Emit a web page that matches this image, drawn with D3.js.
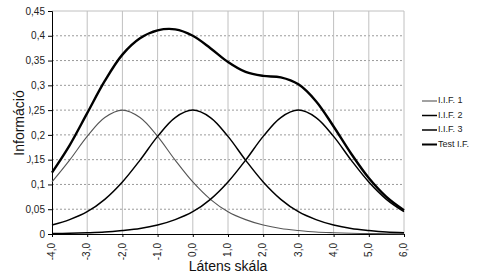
<!DOCTYPE html>
<html>
<head>
<meta charset="utf-8">
<script src="https://cdn.jsdelivr.net/npm/d3@7"></script>
<style>
  body { margin: 0; background: #fff; }
  text { font-family: "Liberation Sans", Arial, sans-serif; }
</style>
</head>
<body>
<div id="chart"></div>
<script>
// ability scale points (Látens skála)
const theta = [-4, -3.5, -3, -2.5, -2, -1.5, -1, -0.5, 0, 0.5, 1, 1.5, 2, 2.5, 3, 3.5, 4, 4.5, 5, 5.5, 6];

const iif1 = [0.105, 0.149, 0.197, 0.235, 0.25, 0.235, 0.197, 0.149, 0.105, 0.070, 0.045, 0.029, 0.018, 0.011, 0.007, 0.004, 0.0025, 0.0015, 0.0009, 0.0006, 0.0003];
const iif2 = [0.018, 0.029, 0.045, 0.070, 0.105, 0.149, 0.197, 0.235, 0.25, 0.235, 0.197, 0.149, 0.105, 0.070, 0.045, 0.029, 0.018, 0.011, 0.007, 0.004, 0.0025];
const iif3 = [0.0009, 0.0015, 0.0025, 0.004, 0.007, 0.011, 0.018, 0.029, 0.045, 0.070, 0.105, 0.149, 0.197, 0.235, 0.25, 0.235, 0.197, 0.149, 0.105, 0.070, 0.045];
const testIF = [0.124, 0.179, 0.244, 0.309, 0.362, 0.395, 0.411, 0.413, 0.400, 0.375, 0.347, 0.327, 0.319, 0.316, 0.302, 0.268, 0.217, 0.162, 0.113, 0.075, 0.048];

const seriesNames = ["I.I.F. 1", "I.I.F. 2", "I.I.F. 3", "Test I.F."];
const xTicks = [-4, -3, -2, -1, 0, 1, 2, 3, 4, 5, 6];
const yTicks = [0, 0.05, 0.1, 0.15, 0.2, 0.25, 0.3, 0.35, 0.4, 0.45];

const margin = { top: 11, right: 76, bottom: 46, left: 52 };
const width = 480 - margin.left - margin.right;
const height = 280 - margin.top - margin.bottom;

const svg = d3.select("#chart").append("svg")
  .attr("width", 480)
  .attr("height", 280);

const g = svg.append("g")
  .attr("transform", `translate(${margin.left},${margin.top})`);

const x = d3.scaleLinear().domain([-4, 6]).range([0, width]);
const y = d3.scaleLinear().domain([0, 0.45]).range([height, 0]);

const comma = (v) => String(v).replace(".", ",");

// horizontal dotted grid
g.append("g")
  .selectAll("line")
  .data(yTicks.filter((d) => d > 0 && d < 0.45))
  .join("line")
  .attr("x1", 0).attr("x2", width)
  .attr("y1", (d) => y(d)).attr("y2", (d) => y(d))
  .attr("stroke", "#9a9a9a")
  .attr("stroke-dasharray", "2,2");

// vertical grid
g.append("g")
  .selectAll("line")
  .data(xTicks.slice(1))
  .join("line")
  .attr("x1", (d) => x(d)).attr("x2", (d) => x(d))
  .attr("y1", 0).attr("y2", height)
  .attr("stroke", "#c0c0c0");

// top border
g.append("line")
  .attr("x1", 0).attr("x2", width)
  .attr("y1", 0).attr("y2", 0)
  .attr("stroke", "#c0c0c0");

// axes
const yAxis = g.append("g")
  .call(d3.axisLeft(y).tickValues(yTicks).tickSize(4).tickFormat(comma));
yAxis.select(".domain").attr("stroke", "#000");
yAxis.selectAll("text").style("font-size", "10px").attr("fill", "#222");

const xAxis = g.append("g")
  .attr("transform", `translate(0,${height})`)
  .call(d3.axisBottom(x).tickValues(xTicks).tickSize(3).tickFormat(d3.format(".1f")));
xAxis.select(".domain").attr("stroke", "#000");
xAxis.selectAll("text")
  .text((d) => d3.format(".1f")(d).replace(".", ",").replace("−", "-"))
  .style("font-size", "10px")
  .attr("fill", "#222")
  .attr("text-anchor", "end")
  .attr("dy", null)
  .attr("transform", "rotate(-90)")
  .attr("x", -9)
  .attr("y", 0)
  .attr("dominant-baseline", "middle");

// curves
const series = [
  { name: seriesNames[0], values: iif1, color: "#555", width: 1.1 },
  { name: seriesNames[1], values: iif2, color: "#000", width: 1.5 },
  { name: seriesNames[2], values: iif3, color: "#000", width: 1.5 },
  { name: seriesNames[3], values: testIF, color: "#000", width: 2.4 },
];

const line = d3.line()
  .x((d) => x(d[0]))
  .y((d) => y(d[1]))
  .curve(d3.curveCatmullRom.alpha(0.5));

g.selectAll(".curve")
  .data(series)
  .join("path")
  .attr("class", "curve")
  .attr("fill", "none")
  .attr("stroke", (d) => d.color)
  .attr("stroke-width", (d) => d.width)
  .attr("d", (d) => line(theta.map((t, i) => [t, d.values[i]])));

// y title with white box that overlaps labels
svg.append("rect")
  .attr("x", 6).attr("y", 86)
  .attr("width", 23).attr("height", 76)
  .attr("fill", "#fff");
svg.append("text")
  .attr("transform", "translate(24,123) rotate(-90)")
  .attr("text-anchor", "middle")
  .style("font-size", "14px")
  .attr("fill", "#111")
  .text("Információ");

// x title
svg.append("text")
  .attr("x", margin.left + width / 2)
  .attr("y", 271)
  .attr("text-anchor", "middle")
  .style("font-size", "14px")
  .attr("fill", "#111")
  .text("Látens skála");

// legend
const legend = svg.append("g").attr("transform", "translate(422,101)");
const item = legend.selectAll("g")
  .data(series)
  .join("g")
  .attr("transform", (d, i) => `translate(0,${i * 14.5})`);
item.append("line")
  .attr("x1", 0).attr("x2", 15)
  .attr("stroke", (d) => d.color)
  .attr("stroke-width", (d) => (d.width > 2 ? 2 : d.width));
item.append("text")
  .attr("x", 16)
  .attr("dominant-baseline", "middle")
  .style("font-size", "9px")
  .attr("fill", "#222")
  .text((d) => d.name);
</script>
</body>
</html>
